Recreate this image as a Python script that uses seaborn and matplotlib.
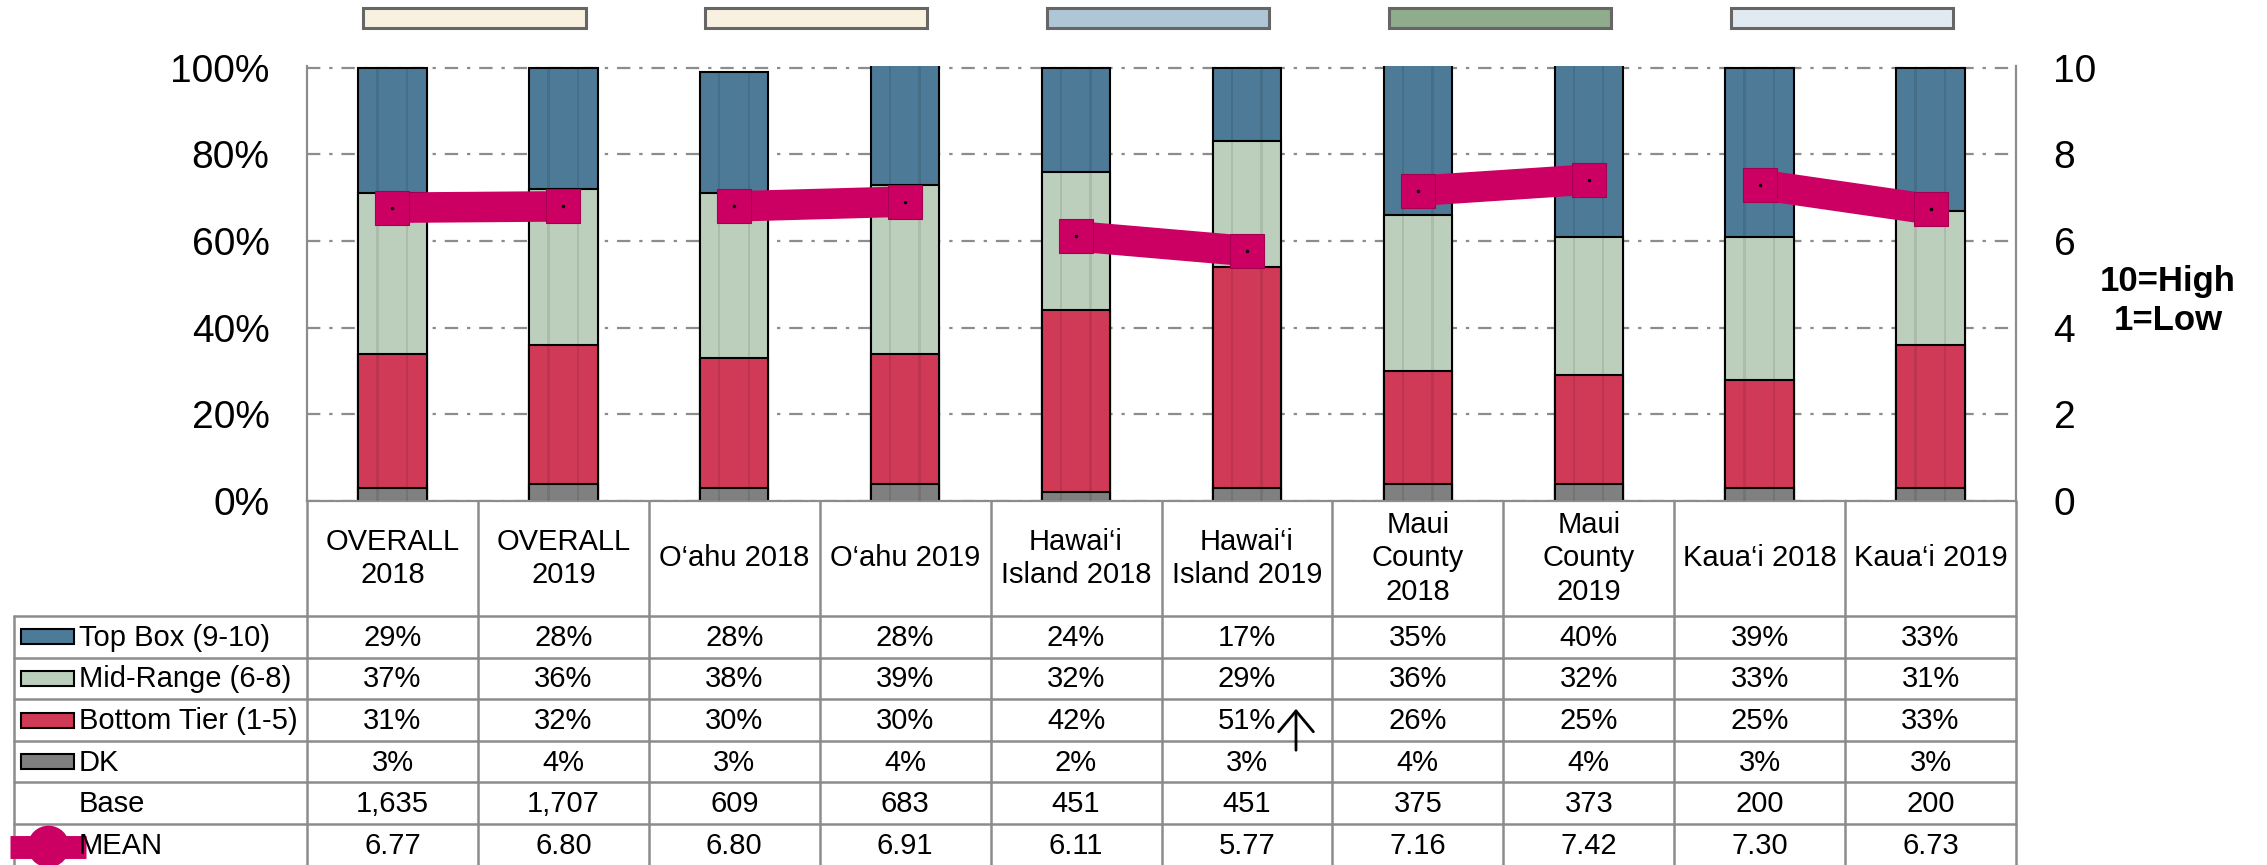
import numpy as np
import pandas as pd
import seaborn as sns
import matplotlib.pyplot as plt
import matplotlib.transforms as mtransforms
from matplotlib.patches import Rectangle

# data
categories = ["OVERALL\n2018", "OVERALL\n2019", "O‘ahu 2018", "O‘ahu 2019",
              "Hawai‘i\nIsland 2018", "Hawai‘i\nIsland 2019",
              "Maui\nCounty\n2018", "Maui\nCounty\n2019",
              "Kaua‘i 2018", "Kaua‘i 2019"]
top_box = [29, 28, 28, 28, 24, 17, 35, 40, 39, 33]
mid_range = [37, 36, 38, 39, 32, 29, 36, 32, 33, 31]
bottom_tier = [31, 32, 30, 30, 42, 51, 26, 25, 25, 33]
dk = [3, 4, 3, 4, 2, 3, 4, 4, 3, 3]
base = ["1,635", "1,707", "609", "683", "451", "451", "375", "373", "200", "200"]
mean = [6.77, 6.80, 6.80, 6.91, 6.11, 5.77, 7.16, 7.42, 7.30, 6.73]
series_names = ["Top Box (9-10)", "Mid-Range (6-8)", "Bottom Tier (1-5)", "DK"]
series_colors = ["#4c7a97", "#bccfbc", "#d03a56", "#808080"]
pair_colors = ["#f8f1df", "#f8f1df", "#aec6d6", "#8fac8d", "#e2eaf1"]
pink = "#cc0063"
grid_gray = "#8c8c8c"

sns.set_style("white")
plt.rcParams['font.family'] = ['Liberation Sans', 'DejaVu Sans']
plt.rcParams['text.color'] = 'black'
plt.rcParams['xtick.color'] = 'black'
plt.rcParams['ytick.color'] = 'black'

W, H = 2267, 865
fig = plt.figure(figsize=(W / 100, H / 100), dpi=100)

# plot area in pixels
px_left, px_right, px_top, px_bottom = 307, 2016, 66, 501
ax = fig.add_axes([px_left / W, 1 - px_bottom / H,
                   (px_right - px_left) / W, (px_bottom - px_top) / H])

df = pd.DataFrame({"cat": categories, "top": top_box, "mid": mid_range,
                   "bot": bottom_tier, "dk": dk})
df["c_dk"] = df["dk"]
df["c_bot"] = df["c_dk"] + df["bot"]
df["c_mid"] = df["c_bot"] + df["mid"]
df["c_top"] = df["c_mid"] + df["top"]

# stacked bars: draw cumulative totals from the top layer down
for col, color in zip(["c_top", "c_mid", "c_bot", "c_dk"], series_colors):
    sns.barplot(data=df, x="cat", y=col, color=color, saturation=1, width=0.4,
                edgecolor="black", linewidth=1.5, ax=ax, zorder=2)

# faint vertical shading stripes on the bars
xpos = np.arange(len(categories))
for off in (-0.088, 0.085):
    ax.bar(xpos + off, df["c_top"], width=0.014, color="black", alpha=0.09,
           linewidth=0, zorder=3)

ax.set_xlim(-0.5, len(categories) - 0.5)
ax.set_ylim(0, 100.4)
ax.set_xlabel("")
ax.set_ylabel("")
ax.set_xticks(xpos)
ax.set_xticklabels([])
ax.set_yticks(range(0, 101, 20))
ax.set_yticklabels([f"{v}%" for v in range(0, 101, 20)], fontsize=28)
ax.tick_params(axis="both", length=0, pad=27)
ax.yaxis.grid(True, linestyle=(0, (6, 4, 1.5, 4)), color=grid_gray, linewidth=1.6)
ax.set_axisbelow(True)
ax.spines["top"].set_visible(False)
for s in ["left", "bottom", "right"]:
    ax.spines[s].set_color(grid_gray)
    ax.spines[s].set_linewidth(1.6)

# colored tags above each pair
trans = mtransforms.blended_transform_factory(ax.transData, ax.transAxes)
for k, c in enumerate(pair_colors):
    ax.add_patch(Rectangle((2 * k - 0.17, 1.0876), 1.30, 0.046, transform=trans,
                           clip_on=False, facecolor=c, edgecolor="#666666", linewidth=2.2))

# mean line on right axis
ax2 = ax.twinx()
for k in range(0, len(mean), 2):
    ax2.plot(xpos[k:k + 2], mean[k:k + 2], color=pink, linewidth=22,
             solid_capstyle="butt", marker="s", markersize=25,
             markeredgecolor="#a3004f", markeredgewidth=0.8, zorder=5)
ax2.plot(xpos, mean, linestyle="none", marker=".", color="black", markersize=3, zorder=6)
ax2.set_ylim(0, 10.04)
ax2.set_yticks(range(0, 11, 2))
ax2.set_yticklabels([str(v) for v in range(0, 11, 2)], fontsize=28)
ax2.tick_params(axis="y", length=0, pad=27)
for s in ax2.spines.values():
    s.set_visible(False)

fig.text(2168 / W, 1 - 301 / H, "10=High\n1=Low", ha="center", va="center",
         fontsize=25, fontweight="bold", linespacing=1.25)

# data table under the plot, sharing the category positions
cat_w = (px_right - px_left) / len(categories)


def px2x(px):
    return -0.5 + (px - px_left) / cat_w


tab_left = 14
tab = fig.add_axes([tab_left / W, 0, (px_right - tab_left) / W, (H - px_bottom) / H])
x_left = px2x(tab_left)
tab.set_xlim(x_left, len(categories) - 0.5)
tab.set_ylim(H - px_bottom, 0)
tab.axis("off")

header_h, row_h = 115, 41.6
edges = [0, header_h] + [header_h + row_h * (r + 1) for r in range(6)]
n = len(categories)
line_kw = dict(color=grid_gray, linewidth=1.8, clip_on=False)
for k in range(n + 1):
    tab.plot([k - 0.5, k - 0.5], [0, edges[-1]], **line_kw)
tab.plot([x_left, x_left], [header_h, edges[-1]], **line_kw)
for e in edges[1:-1]:
    tab.plot([x_left, n - 0.5], [e, e], **line_kw)

fs = 21
for i, c in enumerate(categories):
    tab.text(i, header_h / 2, c, ha="center", va="center", fontsize=fs, linespacing=1.25)

rows = [[f"{v}%" for v in top_box], [f"{v}%" for v in mid_range],
        [f"{v}%" for v in bottom_tier], [f"{v}%" for v in dk],
        base, [f"{v:.2f}" for v in mean]]
row_labels = series_names + ["Base", "MEAN"]
for r, (lab, vals) in enumerate(zip(row_labels, rows)):
    yc = (edges[r + 1] + edges[r + 2]) / 2
    for i, v in enumerate(vals):
        tab.text(i, yc + 1, v, ha="center", va="center", fontsize=fs)
    if r < 4:
        tab.add_patch(Rectangle((px2x(21), yc - 7.5), px2x(74) - px2x(21), 15,
                                facecolor=series_colors[r], edgecolor="black",
                                linewidth=1.5, clip_on=False))
    if r == 5:
        tab.plot([px2x(10), px2x(86)], [yc + 2, yc + 2], color=pink, linewidth=16.5,
                 solid_capstyle="butt", clip_on=False)
        tab.plot([px2x(48)], [yc + 1], marker="o", markersize=29, color=pink,
                 clip_on=False)
    tab.text(px2x(79), yc + 1, lab, ha="left", va="center", fontsize=fs, zorder=5)

# up arrow next to Hawai'i Island 2019 bottom tier
tab.annotate("", xy=(px2x(1296), 205), xytext=(px2x(1296), 252),
             arrowprops=dict(arrowstyle="->,head_length=0.6,head_width=0.5",
                             mutation_scale=25, lw=2, color="black"))

fig.savefig("out.png", dpi=100)
